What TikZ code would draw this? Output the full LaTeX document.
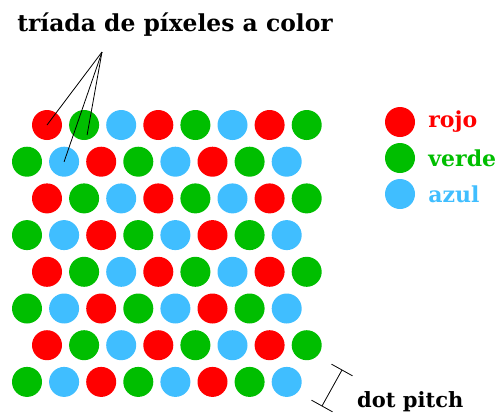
\documentclass[tikz,border=0pt]{standalone}
\usepackage{fontspec}
\setmainfont{DejaVu Serif}
\usetikzlibrary{calc}
\definecolor{rojo}{RGB}{255,0,0}
\definecolor{verde}{RGB}{0,190,0}
\definecolor{azul}{RGB}{64,190,255}

\begin{document}
\begin{tikzpicture}[x=1pt,y=-1pt,
    dot/.style={circle, inner sep=0pt, minimum size=30pt},
    lbl/.style={font=\bfseries\fontsize{22}{26}\selectfont, inner sep=0pt}]
  \useasboundingbox (0,0) rectangle (504,416);

  % Dot grid
  \foreach \r in {1,...,8} {
    \foreach \c in {1,...,8} {
      \pgfmathtruncatemacro{\k}{mod(\c-mod(\r,2),3)}
      \pgfmathparse{{"rojo","verde","azul"}[\k]}
      \let\col\pgfmathresult
      \node[dot, fill=\col] (p-\r-\c)
        at ({27+20*mod(\r,2)+(\c-1)*37.1}, {125+(\r-1)*36.7}) {};
    }
  }

  % Title and pointers
  \node[lbl, font=\bfseries\fontsize{23.4}{28}\selectfont, anchor=base]
    (title) at (175,31) {tríada de píxeles a color};
  \coordinate (apex) at (102,52);
  \draw[line width=0.8pt] (apex) -- (p-1-1.center);
  \draw[line width=0.8pt] (apex) -- ($(p-1-2.center)+(3,10)$);
  \draw[line width=0.8pt] (apex) -- (p-2-2.center);

  % Legend
  \node[dot, fill=rojo] (l-r) at (400,122) {};
  \node[dot, fill=verde] (l-g) at (400,158) {};
  \node[dot, fill=azul] (l-b) at (400,194) {};
  \node[lbl, rojo, anchor=west] at ($(l-r.east)+(13,0)$) {rojo};
  \node[lbl, verde, anchor=west] at ($(l-g.east)+(13,0)$) {verde};
  \node[lbl, azul, anchor=west] at ($(l-b.east)+(13,0)$) {azul};

  % Dot pitch marker
  \coordinate (dp-a) at (342,370);
  \coordinate (dp-b) at (322,406);
  \draw[line width=0.8pt] (dp-a) -- (dp-b);
  \draw[line width=0.8pt] ($(dp-a)!12pt!90:(dp-b)$) -- ($(dp-a)!12pt!-90:(dp-b)$);
  \draw[line width=0.8pt] ($(dp-b)!12pt!90:(dp-a)$) -- ($(dp-b)!12pt!-90:(dp-a)$);
  \node[lbl, font=\bfseries\fontsize{21}{25}\selectfont, anchor=base west]
    (pitch) at (357,407) {dot pitch};
\end{tikzpicture}
\end{document}
